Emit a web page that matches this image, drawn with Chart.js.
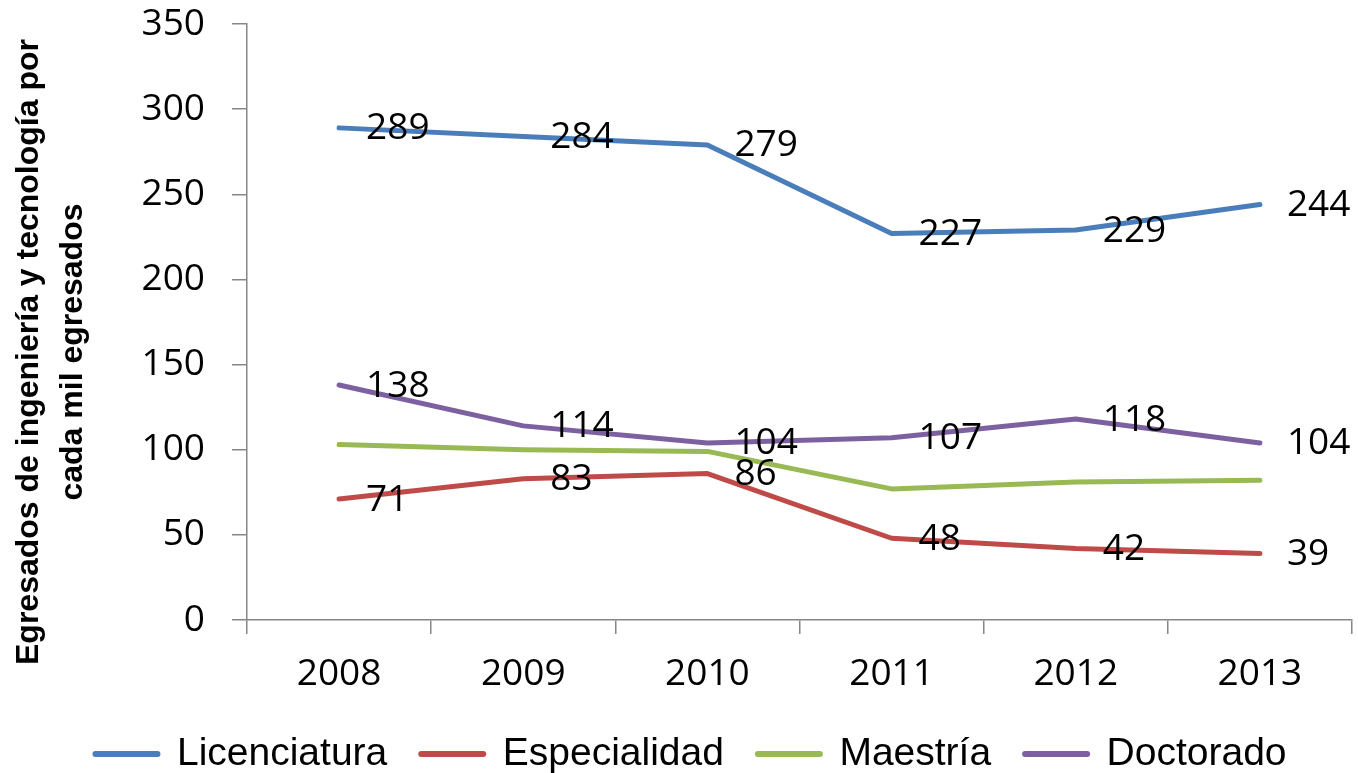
<!DOCTYPE html>
<html>
<head>
<meta charset="utf-8">
<script src="https://cdn.jsdelivr.net/npm/chart.js@4/dist/chart.umd.min.js"></script>
<style>
  html, body { margin: 0; padding: 0; background: #ffffff; }
  #wrap { width: 1358px; height: 773px; }
</style>
</head>
<body>
<div id="wrap"><canvas id="chart" width="1358" height="773"></canvas></div>
<script>
// Egresados de ingeniería y tecnología por cada mil egresados, 2008–2013
const years = ['2008', '2009', '2010', '2011', '2012', '2013'];
const licenciatura = [289, 284, 279, 227, 229, 244];
const especialidad = [71, 83, 86, 48, 42, 39];
const maestria = [103, 100, 99, 77, 81, 82];
const doctorado = [138, 114, 104, 107, 118, 104];
const yTicks = [0, 50, 100, 150, 200, 250, 300, 350];
const yTitle = ['Egresados de ingeniería y tecnología por', 'cada mil egresados'];

const axisGray = '#868686';
const numFont = { family: '"Open Sans", sans-serif', size: 37 };

function series(label, data, color) {
  return {
    label, data,
    borderColor: color, backgroundColor: color,
    borderWidth: 5, pointRadius: 0, pointHoverRadius: 0,
    tension: 0, borderCapStyle: 'round', borderJoinStyle: 'round'
  };
}

// Value labels written to the right of each point
const valueLabels = {
  id: 'valueLabels',
  afterDatasetsDraw(chart, args, opts) {
    const ctx = chart.ctx;
    ctx.save();
    ctx.font = `${opts.font.size}px ${opts.font.family}`;
    ctx.fillStyle = '#000000';
    ctx.textAlign = 'left';
    ctx.textBaseline = 'middle';
    opts.datasets.forEach(di => {
      const meta = chart.getDatasetMeta(di);
      const data = chart.data.datasets[di].data;
      meta.data.forEach((pt, i) => {
        ctx.fillText(String(data[i]), pt.x + opts.offsetX, pt.y + opts.offsetY);
      });
    });
    ctx.restore();
  }
};

// Two-line rotated title beside the value axis
const sideTitle = {
  id: 'sideTitle',
  afterDraw(chart, args, opts) {
    const ctx = chart.ctx;
    ctx.save();
    ctx.font = `bold ${opts.size}px ${opts.family}`;
    ctx.fillStyle = '#000000';
    ctx.textAlign = 'center';
    ctx.textBaseline = 'alphabetic';
    ctx.translate(0, opts.centerY);
    ctx.rotate(-Math.PI / 2);
    opts.lines.forEach((line, i) => {
      ctx.fillText(line, 0, opts.baselines[i]);
    });
    ctx.restore();
  }
};

const baseLegendLabels = Chart.defaults.plugins.legend.labels.generateLabels;

new Chart(document.getElementById('chart'), {
  type: 'line',
  data: {
    labels: years,
    datasets: [
      series('Licenciatura', licenciatura, '#4A7EBB'),
      series('Especialidad', especialidad, '#BE4B48'),
      series('Maestría', maestria, '#98B954'),
      series('Doctorado', doctorado, '#7D60A0')
    ]
  },
  options: {
    responsive: false,
    animation: false,
    events: [],
    layout: { padding: { left: 30, right: 6, top: 0, bottom: -10.5 } },
    scales: {
      x: {
        offset: true,
        grid: { offset: true, drawOnChartArea: false, tickLength: 14, color: axisGray, lineWidth: 1.5 },
        border: { color: axisGray, width: 1.5 },
        ticks: { color: '#000000', font: numFont, padding: 18, maxRotation: 0 },
        afterFit(scale) { scale.height = 80.5; }
      },
      y: {
        min: 0, max: 350,
        afterBuildTicks(scale) { scale.ticks = yTicks.map(v => ({ value: v })); },
        grid: { drawOnChartArea: false, tickLength: 15, color: axisGray, lineWidth: 1.5 },
        border: { color: axisGray, width: 1.5 },
        ticks: { color: '#000000', font: numFont, padding: 27 },
        afterFit(scale) {
          scale.width = 217;
          scale.paddingTop = 24;
          scale.paddingBottom = 24;
        }
      }
    },
    plugins: {
      legend: {
        position: 'bottom',
        labels: {
          usePointStyle: true,
          pointStyle: 'line',
          pointStyleWidth: 62,
          padding: 34,
          color: '#000000',
          font: { family: '"Liberation Sans", Arial, sans-serif', size: 39 },
          generateLabels(chart) {
            return baseLegendLabels(chart).map(item => Object.assign(item, { lineWidth: 6, lineCap: 'round' }));
          }
        }
      },
      tooltip: { enabled: false },
      valueLabels: { datasets: [0, 1, 3], offsetX: 27, offsetY: 1, font: numFont },
      sideTitle: {
        lines: yTitle, family: '"Liberation Sans", Arial, sans-serif', size: 32,
        centerY: 352, baselines: [38, 82]
      }
    }
  },
  plugins: [valueLabels, sideTitle]
});
</script>
</body>
</html>
